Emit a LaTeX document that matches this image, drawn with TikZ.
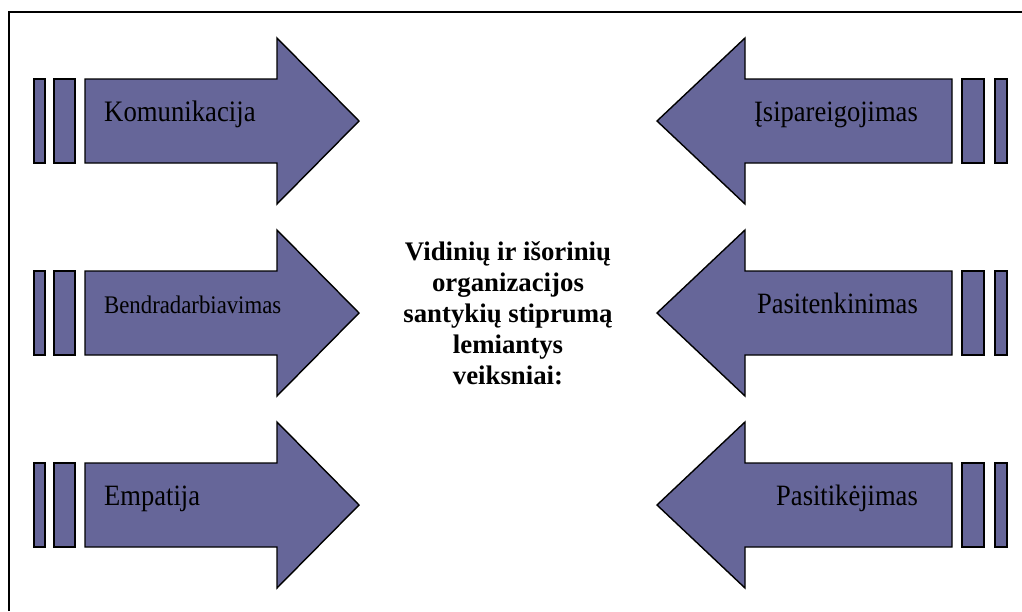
\documentclass[tikz,border=0pt]{standalone}
\usepackage{fontspec}
\setmainfont{Liberation Serif}
\newfontfamily\lblfont{Liberation Serif}[FakeStretch=0.9]
\definecolor{arrowfill}{RGB}{102,102,153}
\begin{document}
\begin{tikzpicture}[x=1pt,y=-1pt,
  arrowpart/.style={fill=arrowfill,draw=black,line width=1.4pt,line join=miter},
  lbl/.style={anchor=base west,inner sep=0pt,text=black},
  rlbl/.style={anchor=base east,inner sep=0pt,text=black},
  frame/.style={draw=black,line width=2pt},
  centertext/.style={align=center,inner sep=0pt,font=\bfseries\fontsize{26.8}{31}\selectfont}]
\useasboundingbox (0,0) rectangle (1022,611);
\draw[frame] (9,611) -- (9,12) -- (1022,12);
% left arrows
\foreach \c/\n/\s/\t in {121/kom/29.7/Komunikacija, 313/ben/25.3/Bendradarbiavimas, 505/emp/29.5/Empatija}{
  \draw[arrowpart] (34,\c-42) rectangle (45,\c+42);
  \draw[arrowpart] (54,\c-42) rectangle (75,\c+42);
  \draw[arrowpart] (85,\c-42) -- (277,\c-42) -- (277,\c-83) -- (359,\c) -- (277,\c+83) -- (277,\c+42) -- (85,\c+42) -- cycle;
  \node[lbl,font=\lblfont\fontsize{\s}{\s}\selectfont] (\n) at (104,\c) {\t};
}
% right arrows
\foreach \c/\n/\t in {121/isi/Įsipareigojimas, 313/pat/Pasitenkinimas, 505/pak/Pasitikėjimas}{
  \draw[arrowpart] (962,\c-42) rectangle (984,\c+42);
  \draw[arrowpart] (995,\c-42) rectangle (1007,\c+42);
  \draw[arrowpart] (952,\c-42) -- (745,\c-42) -- (745,\c-83) -- (657,\c) -- (745,\c+83) -- (745,\c+42) -- (952,\c+42) -- cycle;
  \node[rlbl,font=\lblfont\fontsize{29.5}{29.5}\selectfont] (\n) at (918,\c) {\t};
}
\node[centertext] (center) at (508,313) {Vidinių ir išorinių\\organizacijos\\santykių stiprumą\\lemiantys\\veiksniai:};
\end{tikzpicture}
\end{document}
